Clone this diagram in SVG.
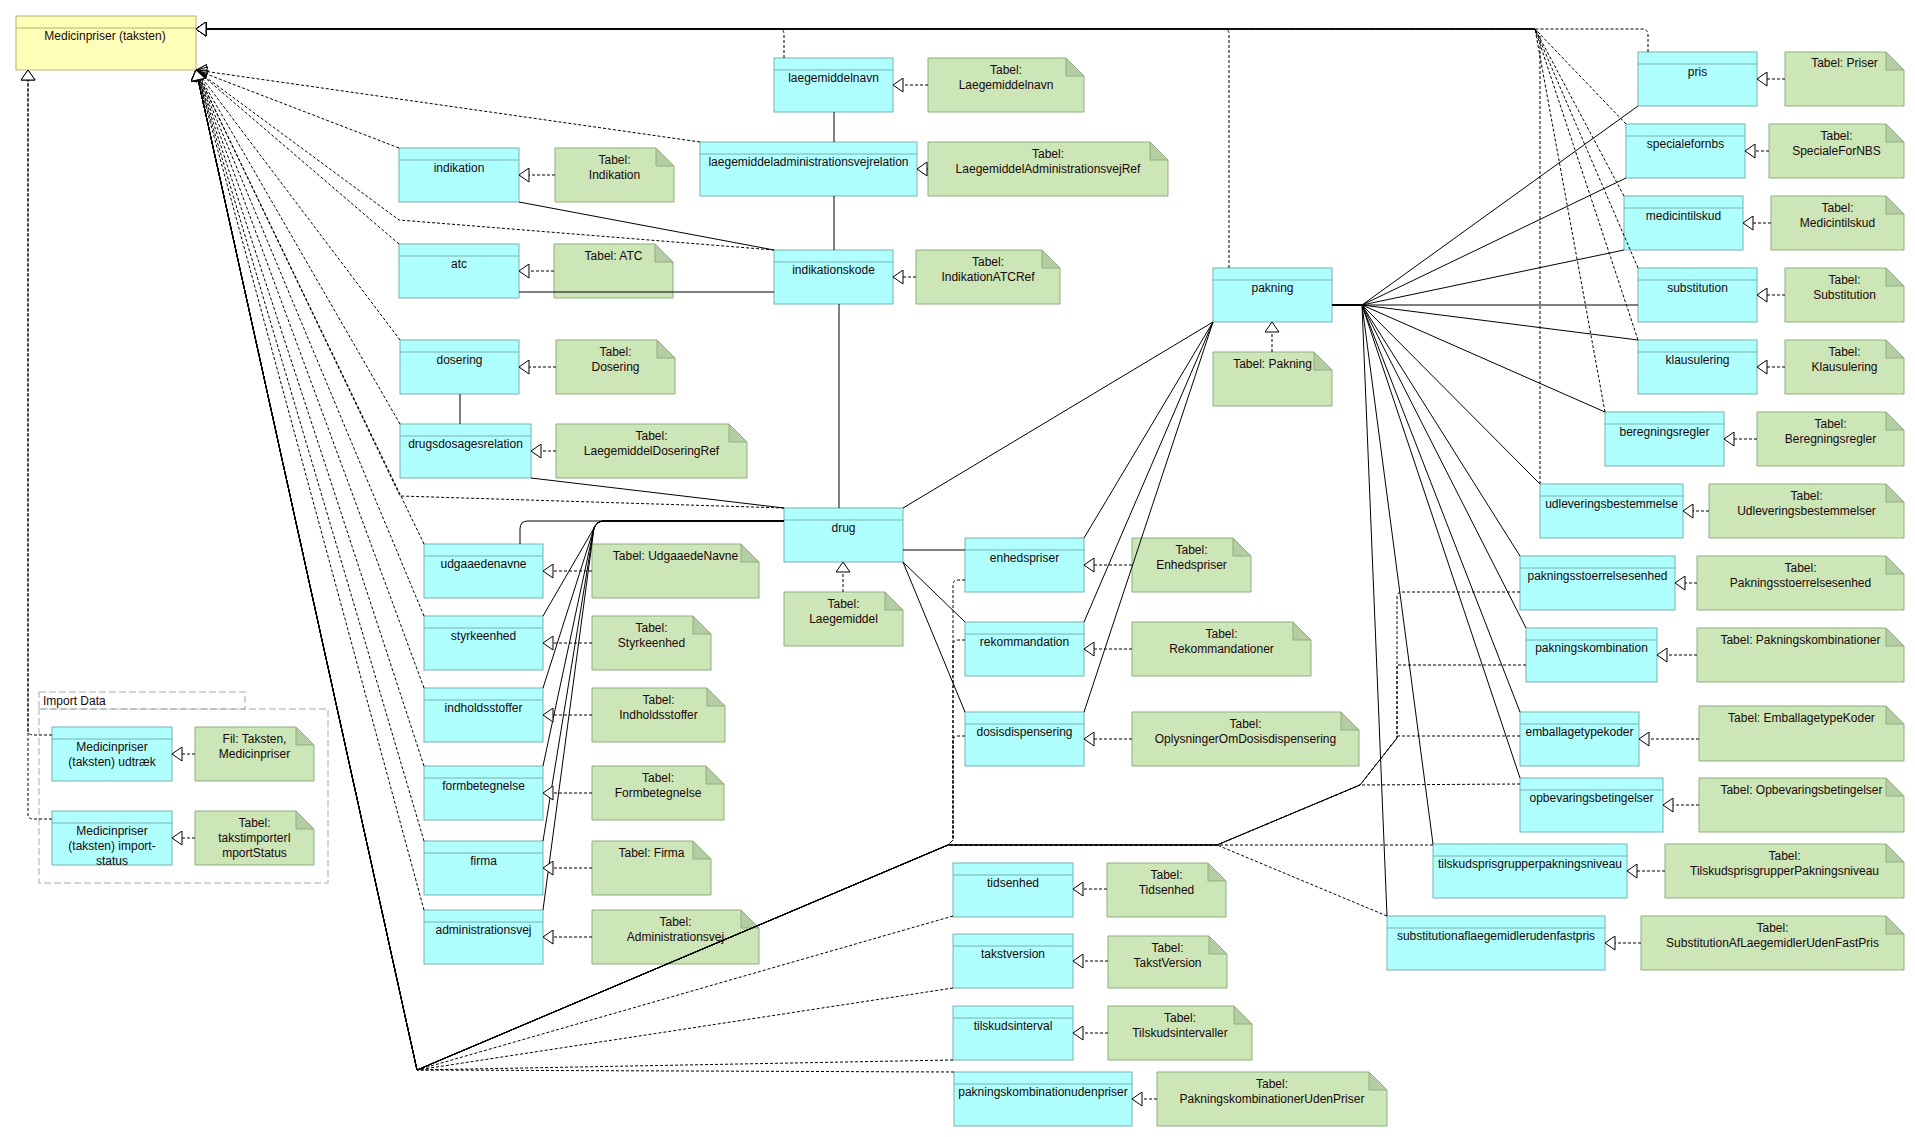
<svg xmlns="http://www.w3.org/2000/svg" width="1915" height="1137" viewBox="0 0 1915 1137">
<defs>
<style>
.n rect{fill:#AFFFFF;stroke:#78B0B0;stroke-width:1}
.n line{stroke:#78B0B0;stroke-width:1}
.nt{font-family:"Liberation Sans",Arial,sans-serif;font-size:12px;fill:#1a0808;text-anchor:middle}
.note .b{fill:#CCE6B8;stroke:#8DAF80;stroke-width:1}
.note .f{fill:#B4CDA2;stroke:#8DAF80;stroke-width:1}
.d{fill:none;stroke:#000;stroke-width:1;stroke-dasharray:3,2}
.g{fill:none;stroke:#000;stroke-width:1;stroke-dasharray:3,2;marker-end:url(#tri)}
.s{fill:none;stroke:#000;stroke-width:1}
</style>
<marker id="tri" viewBox="0 0 11 15" refX="10.5" refY="7.5" markerWidth="11" markerHeight="15" markerUnits="userSpaceOnUse" orient="auto">
<path d="M0.5,0.5 L10.5,7.5 L0.5,14.5 Z" fill="#fff" stroke="#000" stroke-width="1" stroke-dasharray="none"/>
</marker>
</defs>
<rect width="1915" height="1137" fill="#fff"/>

<!-- Import Data package -->
<g id="pkg-import-data">
<rect x="39" y="692" width="206" height="17" fill="none" stroke="#AAAAAA" stroke-dasharray="7,3"/>
<rect x="39" y="709" width="289" height="174" fill="none" stroke="#AAAAAA" stroke-dasharray="7,3"/>
<text class="nt" x="43" y="705" style="text-anchor:start">Import Data</text>
</g>

<!-- Root class -->
<g id="medicinpriser">
<rect x="16" y="16" width="180" height="54" fill="#FFFFB9" stroke="#B4B46E"/>
<line x1="16" y1="28" x2="196" y2="28" stroke="#B4B46E"/>
<text class="nt" x="105" y="40">Medicinpriser (taksten)</text>
</g>

<!-- Nodes -->
<g id="laegemiddelnavn" class="n"><rect x="774" y="58" width="119" height="54"/><line x1="774" y1="70" x2="893" y2="70"/><text class="nt" x="833.5" y="82">laegemiddelnavn</text></g>
<g id="laegemiddeladministrationsvejrelation" class="n"><rect x="700" y="142" width="217" height="54"/><line x1="700" y1="154" x2="917" y2="154"/><text class="nt" x="808.5" y="166">laegemiddeladministrationsvejrelation</text></g>
<g id="indikation" class="n"><rect x="399" y="148" width="120" height="54"/><line x1="399" y1="160" x2="519" y2="160"/><text class="nt" x="459" y="172">indikation</text></g>
<g id="atc" class="n"><rect x="399" y="244" width="120" height="54"/><line x1="399" y1="256" x2="519" y2="256"/><text class="nt" x="459" y="268">atc</text></g>
<g id="indikationskode" class="n"><rect x="774" y="250" width="119" height="54"/><line x1="774" y1="262" x2="893" y2="262"/><text class="nt" x="833.5" y="274">indikationskode</text></g>
<g id="dosering" class="n"><rect x="400" y="340" width="119" height="54"/><line x1="400" y1="352" x2="519" y2="352"/><text class="nt" x="459.5" y="364">dosering</text></g>
<g id="drugsdosagesrelation" class="n"><rect x="400" y="424" width="131" height="54"/><line x1="400" y1="436" x2="531" y2="436"/><text class="nt" x="465.5" y="448">drugsdosagesrelation</text></g>
<g id="drug" class="n"><rect x="784" y="508" width="119" height="54"/><line x1="784" y1="520" x2="903" y2="520"/><text class="nt" x="843.5" y="532">drug</text></g>
<g id="udgaaedenavne" class="n"><rect x="424" y="544" width="119" height="54"/><line x1="424" y1="556" x2="543" y2="556"/><text class="nt" x="483.5" y="568">udgaaedenavne</text></g>
<g id="styrkeenhed" class="n"><rect x="424" y="616" width="119" height="54"/><line x1="424" y1="628" x2="543" y2="628"/><text class="nt" x="483.5" y="640">styrkeenhed</text></g>
<g id="indholdsstoffer" class="n"><rect x="424" y="688" width="119" height="54"/><line x1="424" y1="700" x2="543" y2="700"/><text class="nt" x="483.5" y="712">indholdsstoffer</text></g>
<g id="formbetegnelse" class="n"><rect x="424" y="766" width="119" height="54"/><line x1="424" y1="778" x2="543" y2="778"/><text class="nt" x="483.5" y="790">formbetegnelse</text></g>
<g id="firma" class="n"><rect x="424" y="841" width="119" height="54"/><line x1="424" y1="853" x2="543" y2="853"/><text class="nt" x="483.5" y="865">firma</text></g>
<g id="administrationsvej" class="n"><rect x="424" y="910" width="119" height="54"/><line x1="424" y1="922" x2="543" y2="922"/><text class="nt" x="483.5" y="934">administrationsvej</text></g>
<g id="enhedspriser" class="n"><rect x="965" y="538" width="119" height="54"/><line x1="965" y1="550" x2="1084" y2="550"/><text class="nt" x="1024.5" y="562">enhedspriser</text></g>
<g id="rekommandation" class="n"><rect x="965" y="622" width="119" height="54"/><line x1="965" y1="634" x2="1084" y2="634"/><text class="nt" x="1024.5" y="646">rekommandation</text></g>
<g id="dosisdispensering" class="n"><rect x="965" y="712" width="119" height="54"/><line x1="965" y1="724" x2="1084" y2="724"/><text class="nt" x="1024.5" y="736">dosisdispensering</text></g>
<g id="tidsenhed" class="n"><rect x="953" y="863" width="120" height="54"/><line x1="953" y1="875" x2="1073" y2="875"/><text class="nt" x="1013" y="887">tidsenhed</text></g>
<g id="takstversion" class="n"><rect x="953" y="934" width="120" height="54"/><line x1="953" y1="946" x2="1073" y2="946"/><text class="nt" x="1013" y="958">takstversion</text></g>
<g id="tilskudsinterval" class="n"><rect x="953" y="1006" width="120" height="54"/><line x1="953" y1="1018" x2="1073" y2="1018"/><text class="nt" x="1013" y="1030">tilskudsinterval</text></g>
<g id="pakningskombinationudenpriser" class="n"><rect x="954" y="1072" width="178" height="54"/><line x1="954" y1="1084" x2="1132" y2="1084"/><text class="nt" x="1043" y="1096">pakningskombinationudenpriser</text></g>
<g id="pakning" class="n"><rect x="1213" y="268" width="119" height="54"/><line x1="1213" y1="280" x2="1332" y2="280"/><text class="nt" x="1272.5" y="292">pakning</text></g>
<g id="pris" class="n"><rect x="1638" y="52" width="119" height="54"/><line x1="1638" y1="64" x2="1757" y2="64"/><text class="nt" x="1697.5" y="76">pris</text></g>
<g id="specialefornbs" class="n"><rect x="1626" y="124" width="119" height="54"/><line x1="1626" y1="136" x2="1745" y2="136"/><text class="nt" x="1685.5" y="148">specialefornbs</text></g>
<g id="medicintilskud" class="n"><rect x="1624" y="196" width="119" height="54"/><line x1="1624" y1="208" x2="1743" y2="208"/><text class="nt" x="1683.5" y="220">medicintilskud</text></g>
<g id="substitution" class="n"><rect x="1638" y="268" width="119" height="54"/><line x1="1638" y1="280" x2="1757" y2="280"/><text class="nt" x="1697.5" y="292">substitution</text></g>
<g id="klausulering" class="n"><rect x="1638" y="340" width="119" height="54"/><line x1="1638" y1="352" x2="1757" y2="352"/><text class="nt" x="1697.5" y="364">klausulering</text></g>
<g id="beregningsregler" class="n"><rect x="1605" y="412" width="119" height="54"/><line x1="1605" y1="424" x2="1724" y2="424"/><text class="nt" x="1664.5" y="436">beregningsregler</text></g>
<g id="udleveringsbestemmelse" class="n"><rect x="1540" y="484" width="143" height="54"/><line x1="1540" y1="496" x2="1683" y2="496"/><text class="nt" x="1611.5" y="508">udleveringsbestemmelse</text></g>
<g id="pakningsstoerrelsesenhed" class="n"><rect x="1520" y="556" width="155" height="54"/><line x1="1520" y1="568" x2="1675" y2="568"/><text class="nt" x="1597.5" y="580">pakningsstoerrelsesenhed</text></g>
<g id="pakningskombination" class="n"><rect x="1526" y="628" width="131" height="54"/><line x1="1526" y1="640" x2="1657" y2="640"/><text class="nt" x="1591.5" y="652">pakningskombination</text></g>
<g id="emballagetypekoder" class="n"><rect x="1520" y="712" width="119" height="54"/><line x1="1520" y1="724" x2="1639" y2="724"/><text class="nt" x="1579.5" y="736">emballagetypekoder</text></g>
<g id="opbevaringsbetingelser" class="n"><rect x="1520" y="778" width="143" height="54"/><line x1="1520" y1="790" x2="1663" y2="790"/><text class="nt" x="1591.5" y="802">opbevaringsbetingelser</text></g>
<g id="tilskudsprisgrupperpakningsniveau" class="n"><rect x="1433" y="844" width="194" height="54"/><line x1="1433" y1="856" x2="1627" y2="856"/><text class="nt" x="1530" y="868">tilskudsprisgrupperpakningsniveau</text></g>
<g id="substitutionaflaegemidlerudenfastpris" class="n"><rect x="1387" y="916" width="218" height="54"/><line x1="1387" y1="928" x2="1605" y2="928"/><text class="nt" x="1496" y="940">substitutionaflaegemidlerudenfastpris</text></g>
<g id="medicinpriser-udtraek" class="n"><rect x="52" y="727" width="120" height="54"/><line x1="52" y1="739" x2="172" y2="739"/><text class="nt" x="112" y="751">Medicinpriser</text><text class="nt" x="112" y="766">(taksten) udtræk</text></g>
<g id="medicinpriser-importstatus" class="n"><rect x="52" y="811" width="120" height="54"/><line x1="52" y1="823" x2="172" y2="823"/><text class="nt" x="112" y="835">Medicinpriser</text><text class="nt" x="112" y="850">(taksten) import-</text><text class="nt" x="112" y="865">status</text></g>

<!-- Notes -->
<g id="note-laegemiddelnavn" class="note"><path class="b" d="M928,58 H1066 L1084,76 V112 H928 Z"/><path class="f" d="M1066,58 V76 H1084 Z"/><text class="nt" x="1006" y="74">Tabel:</text><text class="nt" x="1006" y="89">Laegemiddelnavn</text></g>
<g id="note-laegemiddeladministrationsvejref" class="note"><path class="b" d="M928,142 H1150 L1168,160 V196 H928 Z"/><path class="f" d="M1150,142 V160 H1168 Z"/><text class="nt" x="1048" y="158">Tabel:</text><text class="nt" x="1048" y="173">LaegemiddelAdministrationsvejRef</text></g>
<g id="note-indikation" class="note"><path class="b" d="M555,148 H656 L674,166 V202 H555 Z"/><path class="f" d="M656,148 V166 H674 Z"/><text class="nt" x="614.5" y="164">Tabel:</text><text class="nt" x="614.5" y="179">Indikation</text></g>
<g id="note-atc" class="note"><path class="b" d="M554,244 H655 L673,262 V298 H554 Z"/><path class="f" d="M655,244 V262 H673 Z"/><text class="nt" x="613.5" y="260">Tabel: ATC</text></g>
<g id="note-indikationatcref" class="note"><path class="b" d="M916,250 H1042 L1060,268 V304 H916 Z"/><path class="f" d="M1042,250 V268 H1060 Z"/><text class="nt" x="988" y="266">Tabel:</text><text class="nt" x="988" y="281">IndikationATCRef</text></g>
<g id="note-dosering" class="note"><path class="b" d="M556,340 H657 L675,358 V394 H556 Z"/><path class="f" d="M657,340 V358 H675 Z"/><text class="nt" x="615.5" y="356">Tabel:</text><text class="nt" x="615.5" y="371">Dosering</text></g>
<g id="note-laegemiddeldoseringref" class="note"><path class="b" d="M556,424 H729 L747,442 V478 H556 Z"/><path class="f" d="M729,424 V442 H747 Z"/><text class="nt" x="651.5" y="440">Tabel:</text><text class="nt" x="651.5" y="455">LaegemiddelDoseringRef</text></g>
<g id="note-udgaaedenavne" class="note"><path class="b" d="M592,544 H741 L759,562 V598 H592 Z"/><path class="f" d="M741,544 V562 H759 Z"/><text class="nt" x="675.5" y="560">Tabel: UdgaaedeNavne</text></g>
<g id="note-styrkeenhed" class="note"><path class="b" d="M592,616 H693 L711,634 V670 H592 Z"/><path class="f" d="M693,616 V634 H711 Z"/><text class="nt" x="651.5" y="632">Tabel:</text><text class="nt" x="651.5" y="647">Styrkeenhed</text></g>
<g id="note-indholdsstoffer" class="note"><path class="b" d="M592,688 H707 L725,706 V742 H592 Z"/><path class="f" d="M707,688 V706 H725 Z"/><text class="nt" x="658.5" y="704">Tabel:</text><text class="nt" x="658.5" y="719">Indholdsstoffer</text></g>
<g id="note-formbetegnelse" class="note"><path class="b" d="M592,766 H706 L724,784 V820 H592 Z"/><path class="f" d="M706,766 V784 H724 Z"/><text class="nt" x="658" y="782">Tabel:</text><text class="nt" x="658" y="797">Formbetegnelse</text></g>
<g id="note-firma" class="note"><path class="b" d="M592,841 H693 L711,859 V895 H592 Z"/><path class="f" d="M693,841 V859 H711 Z"/><text class="nt" x="651.5" y="857">Tabel: Firma</text></g>
<g id="note-administrationsvej" class="note"><path class="b" d="M592,910 H741 L759,928 V964 H592 Z"/><path class="f" d="M741,910 V928 H759 Z"/><text class="nt" x="675.5" y="926">Tabel:</text><text class="nt" x="675.5" y="941">Administrationsvej</text></g>
<g id="note-laegemiddel" class="note"><path class="b" d="M784,592 H885 L903,610 V646 H784 Z"/><path class="f" d="M885,592 V610 H903 Z"/><text class="nt" x="843.5" y="608">Tabel:</text><text class="nt" x="843.5" y="623">Laegemiddel</text></g>
<g id="note-enhedspriser" class="note"><path class="b" d="M1132,538 H1233 L1251,556 V592 H1132 Z"/><path class="f" d="M1233,538 V556 H1251 Z"/><text class="nt" x="1191.5" y="554">Tabel:</text><text class="nt" x="1191.5" y="569">Enhedspriser</text></g>
<g id="note-rekommandationer" class="note"><path class="b" d="M1132,622 H1293 L1311,640 V676 H1132 Z"/><path class="f" d="M1293,622 V640 H1311 Z"/><text class="nt" x="1221.5" y="638">Tabel:</text><text class="nt" x="1221.5" y="653">Rekommandationer</text></g>
<g id="note-oplysningeromdosisdispensering" class="note"><path class="b" d="M1132,712 H1341 L1359,730 V766 H1132 Z"/><path class="f" d="M1341,712 V730 H1359 Z"/><text class="nt" x="1245.5" y="728">Tabel:</text><text class="nt" x="1245.5" y="743">OplysningerOmDosisdispensering</text></g>
<g id="note-tidsenhed" class="note"><path class="b" d="M1107,863 H1208 L1226,881 V917 H1107 Z"/><path class="f" d="M1208,863 V881 H1226 Z"/><text class="nt" x="1166.5" y="879">Tabel:</text><text class="nt" x="1166.5" y="894">Tidsenhed</text></g>
<g id="note-takstversion" class="note"><path class="b" d="M1108,936 H1209 L1227,954 V988 H1108 Z"/><path class="f" d="M1209,936 V954 H1227 Z"/><text class="nt" x="1167.5" y="952">Tabel:</text><text class="nt" x="1167.5" y="967">TakstVersion</text></g>
<g id="note-tilskudsintervaller" class="note"><path class="b" d="M1108,1006 H1234 L1252,1024 V1060 H1108 Z"/><path class="f" d="M1234,1006 V1024 H1252 Z"/><text class="nt" x="1180" y="1022">Tabel:</text><text class="nt" x="1180" y="1037">Tilskudsintervaller</text></g>
<g id="note-pakningskombinationerudenpriser" class="note"><path class="b" d="M1157,1072 H1369 L1387,1090 V1126 H1157 Z"/><path class="f" d="M1369,1072 V1090 H1387 Z"/><text class="nt" x="1272" y="1088">Tabel:</text><text class="nt" x="1272" y="1103">PakningskombinationerUdenPriser</text></g>
<g id="note-pakning" class="note"><path class="b" d="M1213,352 H1314 L1332,370 V406 H1213 Z"/><path class="f" d="M1314,352 V370 H1332 Z"/><text class="nt" x="1272.5" y="368">Tabel: Pakning</text></g>
<g id="note-priser" class="note"><path class="b" d="M1785,52 H1886 L1904,70 V106 H1785 Z"/><path class="f" d="M1886,52 V70 H1904 Z"/><text class="nt" x="1844.5" y="67">Tabel: Priser</text></g>
<g id="note-specialefornbs" class="note"><path class="b" d="M1769,124 H1886 L1904,142 V178 H1769 Z"/><path class="f" d="M1886,124 V142 H1904 Z"/><text class="nt" x="1836.5" y="140">Tabel:</text><text class="nt" x="1836.5" y="155">SpecialeForNBS</text></g>
<g id="note-medicintilskud" class="note"><path class="b" d="M1771,196 H1886 L1904,214 V250 H1771 Z"/><path class="f" d="M1886,196 V214 H1904 Z"/><text class="nt" x="1837.5" y="212">Tabel:</text><text class="nt" x="1837.5" y="227">Medicintilskud</text></g>
<g id="note-substitution" class="note"><path class="b" d="M1785,268 H1886 L1904,286 V322 H1785 Z"/><path class="f" d="M1886,268 V286 H1904 Z"/><text class="nt" x="1844.5" y="284">Tabel:</text><text class="nt" x="1844.5" y="299">Substitution</text></g>
<g id="note-klausulering" class="note"><path class="b" d="M1785,340 H1886 L1904,358 V394 H1785 Z"/><path class="f" d="M1886,340 V358 H1904 Z"/><text class="nt" x="1844.5" y="356">Tabel:</text><text class="nt" x="1844.5" y="371">Klausulering</text></g>
<g id="note-beregningsregler" class="note"><path class="b" d="M1757,412 H1886 L1904,430 V466 H1757 Z"/><path class="f" d="M1886,412 V430 H1904 Z"/><text class="nt" x="1830.5" y="428">Tabel:</text><text class="nt" x="1830.5" y="443">Beregningsregler</text></g>
<g id="note-udleveringsbestemmelser" class="note"><path class="b" d="M1709,484 H1886 L1904,502 V538 H1709 Z"/><path class="f" d="M1886,484 V502 H1904 Z"/><text class="nt" x="1806.5" y="500">Tabel:</text><text class="nt" x="1806.5" y="515">Udleveringsbestemmelser</text></g>
<g id="note-pakningsstoerrelsesenhed" class="note"><path class="b" d="M1697,556 H1886 L1904,574 V610 H1697 Z"/><path class="f" d="M1886,556 V574 H1904 Z"/><text class="nt" x="1800.5" y="572">Tabel:</text><text class="nt" x="1800.5" y="587">Pakningsstoerrelsesenhed</text></g>
<g id="note-pakningskombinationer" class="note"><path class="b" d="M1697,628 H1886 L1904,646 V682 H1697 Z"/><path class="f" d="M1886,628 V646 H1904 Z"/><text class="nt" x="1800.5" y="644">Tabel: Pakningskombinationer</text></g>
<g id="note-emballagetypekoder" class="note"><path class="b" d="M1699,706 H1886 L1904,724 V761 H1699 Z"/><path class="f" d="M1886,706 V724 H1904 Z"/><text class="nt" x="1801.5" y="722">Tabel: EmballagetypeKoder</text></g>
<g id="note-opbevaringsbetingelser" class="note"><path class="b" d="M1699,778 H1886 L1904,796 V832 H1699 Z"/><path class="f" d="M1886,778 V796 H1904 Z"/><text class="nt" x="1801.5" y="794">Tabel: Opbevaringsbetingelser</text></g>
<g id="note-tilskudsprisgrupperpakningsniveau" class="note"><path class="b" d="M1665,844 H1886 L1904,862 V898 H1665 Z"/><path class="f" d="M1886,844 V862 H1904 Z"/><text class="nt" x="1784.5" y="860">Tabel:</text><text class="nt" x="1784.5" y="875">TilskudsprisgrupperPakningsniveau</text></g>
<g id="note-substitutionaflaegemidlerudenfastpris" class="note"><path class="b" d="M1641,916 H1886 L1904,934 V970 H1641 Z"/><path class="f" d="M1886,916 V934 H1904 Z"/><text class="nt" x="1772.5" y="932">Tabel:</text><text class="nt" x="1772.5" y="947">SubstitutionAfLaegemidlerUdenFastPris</text></g>
<g id="note-fil-taksten" class="note"><path class="b" d="M195,727 H296 L314,745 V781 H195 Z"/><path class="f" d="M296,727 V745 H314 Z"/><text class="nt" x="254.5" y="743">Fil: Taksten,</text><text class="nt" x="254.5" y="758">Medicinpriser</text></g>
<g id="note-takstimporterimportstatus" class="note"><path class="b" d="M195,811 H296 L314,829 V865 H195 Z"/><path class="f" d="M296,811 V829 H314 Z"/><text class="nt" x="254.5" y="827">Tabel:</text><text class="nt" x="254.5" y="842">takstimporterI</text><text class="nt" x="254.5" y="857">mportStatus</text></g>

<!-- Connectors -->
<g id="connectors">
<!-- associations -->
<path class="s" d="M834,112 V142"/>
<path class="s" d="M834,196 V250"/>
<path class="s" d="M519,202 L774,250"/>
<path class="s" d="M519,292 H774"/>
<path class="s" d="M839,304 V508"/>
<path class="s" d="M460,394 V424"/>
<path class="s" d="M531,478 L784,508"/>
<path class="s" d="M784,521 H528 Q520,521 520,529 V544"/>
<path class="s" d="M784,521 H604 Q597,521 594,528 L543,616"/>
<path class="s" d="M784,521 H604 Q597,521 594,528 L543,688"/>
<path class="s" d="M784,521 H604 Q597,521 594,528 L543,766"/>
<path class="s" d="M784,521 H604 Q597,521 594,528 L543,841"/>
<path class="s" d="M784,521 H604 Q597,521 594,528 L543,910"/>
<path class="s" d="M903,550 H965"/>
<path class="s" d="M903,562 L965,622"/>
<path class="s" d="M903,562 L965,712"/>
<path class="s" d="M1213,322 L903,508"/>
<path class="s" d="M1213,322 L1084,538"/>
<path class="s" d="M1213,322 L1084,622"/>
<path class="s" d="M1213,322 L1084,712"/>
<path class="s" d="M1332,305 H1362 L1638,106"/>
<path class="s" d="M1332,305 H1362 L1626,178"/>
<path class="s" d="M1332,305 H1362 L1624,250"/>
<path class="s" d="M1332,305 H1638"/>
<path class="s" d="M1332,305 H1362 L1638,340"/>
<path class="s" d="M1332,305 H1362 L1605,412"/>
<path class="s" d="M1332,305 H1362 L1540,484"/>
<path class="s" d="M1332,305 H1362 L1520,556"/>
<path class="s" d="M1332,305 H1362 L1526,628"/>
<path class="s" d="M1332,305 H1362 L1520,712"/>
<path class="s" d="M1332,305 H1362 L1520,778"/>
<path class="s" d="M1332,305 H1362 L1433,844"/>
<path class="s" d="M1332,305 H1362 L1387,916"/>

<!-- generalizations: top bundle -->
<path class="g" d="M784,58 V34 Q784,29 779,29 H196"/>
<path class="g" d="M1229,268 V34 Q1229,29 1224,29 H196"/>
<path class="g" d="M1648,52 V35 Q1648,29 1642,29 H196"/>
<path class="g" d="M1626,124 L1535,29 H196"/>
<path class="g" d="M1624,196 L1535,29 H196"/>
<path class="g" d="M1638,268 L1535,29 H196"/>
<path class="g" d="M1638,340 L1535,29 H196"/>
<path class="g" d="M1605,412 L1535,29 H196"/>
<path class="g" d="M1540,484 V34 L1535,29 H196"/>

<!-- generalizations: left fan -->
<path class="g" d="M700,142 L196,70"/>
<path class="g" d="M399,148 L196,70"/>
<path class="g" d="M774,250 L399,220 L196,70"/>
<path class="g" d="M399,244 L196,70"/>
<path class="g" d="M400,340 L196,70"/>
<path class="g" d="M400,424 L196,70"/>
<path class="g" d="M784,508 L400,496 L196,70"/>
<path class="g" d="M424,544 L196,70"/>
<path class="g" d="M424,616 L196,70"/>
<path class="g" d="M424,688 L196,70"/>
<path class="g" d="M424,766 L196,70"/>
<path class="g" d="M424,841 L196,70"/>
<path class="g" d="M424,910 L196,70"/>

<!-- generalizations: bottom bundle -->
<path class="g" d="M953,916 L417,1070 L196,70"/>
<path class="g" d="M953,988 L417,1070 L196,70"/>
<path class="g" d="M953,1060 L417,1070 L196,70"/>
<path class="g" d="M954,1072 L417,1070 L196,70"/>
<path class="g" d="M965,580 H958 Q953,580 953,585 V840 L948,845 L417,1070 L196,70"/>
<path class="g" d="M965,640 H958 Q953,640 953,645 V840 L948,845 L417,1070 L196,70"/>
<path class="g" d="M965,736 H958 Q953,736 953,741 V840 L948,845 L417,1070 L196,70"/>
<path class="g" d="M1433,845 H948 L417,1070 L196,70"/>
<path class="g" d="M1387,916 L1217,845 H948 L417,1070 L196,70"/>
<path class="g" d="M1520,784 L1360,785 L1217,845 H948 L417,1070 L196,70"/>
<path class="g" d="M1520,592 H1402 Q1397,592 1397,597 V738 L1360,785 L1217,845 H948 L417,1070 L196,70"/>
<path class="g" d="M1526,665 H1397 V738 L1360,785 L1217,845 H948 L417,1070 L196,70"/>
<path class="g" d="M1520,736 H1397 V738 L1360,785 L1217,845 H948 L417,1070 L196,70"/>

<!-- import data generalizations -->
<path class="g" d="M52,735 H33 Q28,735 28,730 V70"/>
<path class="g" d="M52,819 H33 Q28,819 28,814 V70"/>

<!-- note realizations -->
<path class="g" d="M928,85 H893"/>
<path class="g" d="M928,169 H917"/>
<path class="g" d="M555,175 H519"/>
<path class="g" d="M554,271 H519"/>
<path class="g" d="M916,277 H893"/>
<path class="g" d="M556,367 H519"/>
<path class="g" d="M556,451 H531"/>
<path class="g" d="M592,571 H543"/>
<path class="g" d="M592,643 H543"/>
<path class="g" d="M592,715 H543"/>
<path class="g" d="M592,793 H543"/>
<path class="g" d="M592,868 H543"/>
<path class="g" d="M592,937 H543"/>
<path class="g" d="M843,592 V562"/>
<path class="g" d="M1132,565 H1084"/>
<path class="g" d="M1132,649 H1084"/>
<path class="g" d="M1132,739 H1084"/>
<path class="g" d="M1107,889 H1073"/>
<path class="g" d="M1108,961 H1073"/>
<path class="g" d="M1108,1033 H1073"/>
<path class="g" d="M1157,1099 H1132"/>
<path class="g" d="M1272,352 V322"/>
<path class="g" d="M1785,79 H1757"/>
<path class="g" d="M1769,151 H1745"/>
<path class="g" d="M1771,223 H1743"/>
<path class="g" d="M1785,295 H1757"/>
<path class="g" d="M1785,367 H1757"/>
<path class="g" d="M1757,439 H1724"/>
<path class="g" d="M1709,511 H1683"/>
<path class="g" d="M1697,583 H1675"/>
<path class="g" d="M1697,655 H1657"/>
<path class="g" d="M1699,739 H1639"/>
<path class="g" d="M1699,805 H1663"/>
<path class="g" d="M1665,871 H1627"/>
<path class="g" d="M1641,943 H1605"/>
<path class="g" d="M195,754 H172"/>
<path class="g" d="M195,838 H172"/>
</g>
</svg>
